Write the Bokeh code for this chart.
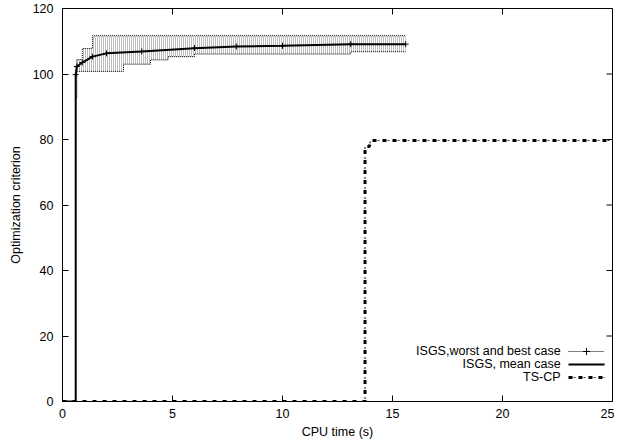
from bokeh.plotting import figure
from bokeh.models import Range1d, FixedTicker, Label
from bokeh.embed import file_html
from bokeh.resources import INLINE

# ---- data ----
x_ticks = [0, 5, 10, 15, 20, 25]
y_ticks = [0, 20, 40, 60, 80, 100, 120]

# ISGS worst / best case envelope (step after)
band_t = [0.6, 0.65, 0.9, 1.36, 2.77, 4.0, 4.8, 6.0, 13.1, 15.6]
band_low = [92.6, 100.8, 100.8, 100.8, 103.0, 104.3, 105.3, 106.1, 106.8, 106.8]
band_high = [102.0, 104.4, 107.8, 111.7, 111.7, 111.7, 111.7, 111.7, 111.7, 111.7]

# ISGS mean case
mean_t = [0, 0.6, 0.6, 0.65, 0.9, 1.36, 2.0, 3.6, 6.0, 7.9, 10.0, 13.1, 15.6]
mean_y = [0, 0, 99.8, 102.3, 103.5, 105.3, 106.3, 106.9, 107.9, 108.4, 108.6, 109.1, 109.1]

# TS-CP
ts_t = [0, 13.75, 13.75, 13.95, 14.0, 25]
ts_y = [0, 0, 77.9, 77.9, 79.7, 79.7]

legend_labels = ["ISGS,worst and best case", "ISGS, mean case", "TS-CP"]

FONT = "Liberation Sans"
FS = "12.5px"
FW, FH = 550, 393
X0, X1, Y0, Y1 = 0, 25, 0, 120

p = figure(frame_width=FW, frame_height=FH, output_backend="svg", toolbar_location=None,
           x_range=Range1d(X0, X1), y_range=Range1d(Y0, Y1),
           min_border_left=62, min_border_right=2, min_border_top=8, min_border_bottom=30,
           x_axis_label="CPU time (s)", y_axis_label="Optimization criterion")
p.grid.visible = False
p.outline_line_color = "black"
p.outline_line_width = 1
p.background_fill_color = "white"
p.border_fill_color = "white"

for ax in (p.xaxis[0], p.yaxis[0]):
    ax.major_label_text_font = FONT
    ax.major_label_text_font_size = FS
    ax.axis_label_text_font = FONT
    ax.axis_label_text_font_size = FS
    ax.axis_label_text_font_style = "normal"
    ax.major_tick_in = 6
    ax.major_tick_out = 0
    ax.minor_tick_in = 0
    ax.minor_tick_out = 0
    ax.axis_line_color = "black"
    ax.major_label_text_color = "black"
    ax.axis_label_text_color = "black"
p.xaxis[0].ticker = FixedTicker(ticks=x_ticks)
p.yaxis[0].ticker = FixedTicker(ticks=y_ticks)
p.xaxis[0].major_label_standoff = 7
p.xaxis[0].axis_label_standoff = 4
p.yaxis[0].major_label_standoff = 9
p.yaxis[0].axis_label_standoff = 7

# mirrored ticks on top and right (gnuplot style)
TICK = 6
dy = TICK * (Y1 - Y0) / FH
dx = TICK * (X1 - X0) / FW
p.segment(x0=x_ticks, y0=[Y1] * len(x_ticks), x1=x_ticks, y1=[Y1 - dy] * len(x_ticks),
          line_color="black", line_width=1)
p.segment(x0=[X1] * len(y_ticks), y0=y_ticks, x1=[X1 - dx] * len(y_ticks), y1=y_ticks,
          line_color="black", line_width=1)

# envelope: dense dotted error bars -> hatch + dotted borders
p.varea_step(x=band_t, y1=band_low, y2=band_high, step_mode="after",
             fill_alpha=0, hatch_pattern="|", hatch_color="#5a5a5a",
             hatch_scale=2, hatch_weight=1, hatch_alpha=0.8)
p.step(band_t, band_low, mode="after", line_color="black", line_dash="1 1", line_width=1)
p.step(band_t, band_high, mode="after", line_color="black", line_dash="1 1", line_width=1)

# mean line
p.line(mean_t, mean_y, line_color="black", line_width=2)
p.scatter(mean_t[2:], mean_y[2:], marker="cross", size=6, line_color="black")

# TS-CP: squares with thin dashes between
p.line(ts_t, ts_y, line_color="black", line_width=3, line_dash="4 6")
p.line(ts_t, ts_y, line_color="#333333", line_width=1.2, line_dash="2 8", line_dash_offset=-5)

# manual gnuplot-style legend (text right, sample right)
leg_y = [15.27, 11.3, 7.33]
tx = 22.64
sx0, sx1 = 23.0, 24.64
for lbl, yy in zip(legend_labels, leg_y):
    p.add_layout(Label(x=tx, y=yy, text=lbl, text_align="right", text_baseline="middle",
                       text_font=FONT, text_font_size=FS, text_color="black"))
p.line([sx0, sx1], [leg_y[0], leg_y[0]], line_color="black", line_dash="1 1", line_width=1)
p.scatter([(sx0 + sx1) / 2], [leg_y[0]], marker="cross", size=7, line_color="black")
p.line([sx0, sx1], [leg_y[1], leg_y[1]], line_color="black", line_width=2)
p.line([sx0, sx1], [leg_y[2], leg_y[2]], line_color="black", line_width=3, line_dash="4 6")
p.line([sx0, sx1], [leg_y[2], leg_y[2]], line_color="#333333", line_width=1.2, line_dash="2 8",
       line_dash_offset=-5)

open("out.html", "w").write(file_html(p, INLINE))
